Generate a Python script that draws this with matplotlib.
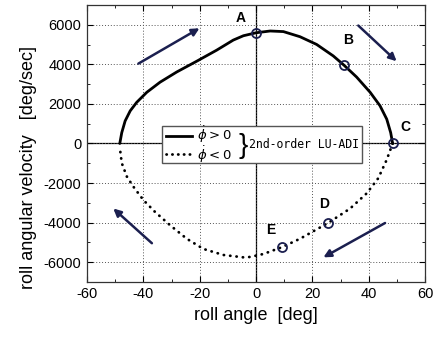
import matplotlib.pyplot as plt
from matplotlib.patches import Rectangle
from matplotlib.ticker import MultipleLocator

# phase trajectory, phi_dot > 0 branch (solid)
up_angle = [-48.4, -47.7, -46.5, -44.7, -42.4, -38.8, -34.1, -28.2, -21.1, -14.0, -8.1, -4.5,
            0.0, 5.0, 9.7, 15.6, 21.5, 27.4, 31.3, 35.7, 40.5, 44.0, 46.4, 47.8, 48.5]
up_rate = [0, 547, 1140, 1650, 2080, 2590, 3100, 3615, 4160, 4720, 5230, 5450,
           5600, 5690, 5660, 5400, 5010, 4430, 3950, 3360, 2590, 1910, 1230, 547, 0]

# phi_dot < 0 branch (dotted)
dn_angle = [48.5, 46.4, 43.4, 39.3, 33.4, 25.7, 15.6, 9.1, 2.6, -2.1, -4.5, -11.6,
            -18.7, -24.6, -30.5, -35.9, -40.0, -43.6, -45.9, -47.7, -48.4]
dn_rate = [0, -820, -1755, -2520, -3290, -4010, -4820, -5250, -5590, -5740, -5760, -5640,
           -5335, -4820, -4140, -3460, -2865, -2180, -1670, -990, -200]

# labelled states on the trajectory
pt_names = ["A", "B", "C", "D", "E"]
pt_angle = [0.0, 31.3, 48.5, 25.7, 9.1]
pt_rate = [5600, 3950, 0, -4010, -5250]
lbl_angle = [-5.4, 32.6, 53.1, 24.1, 5.2]
lbl_rate = [6340, 5230, 830, -3070, -4400]

# direction arrows (tail -> head)
arr_tail = [(-41.8, 4040), (36.3, 5965), (45.8, -4023), (-37.0, -5045)]
arr_head = [(-20.1, 5830), (49.9, 4160), (23.9, -5761), (-50.7, -3290)]

navy = "#1b1f4f"
plt.rcParams["font.family"] = "Liberation Sans"

fig = plt.figure(figsize=(4.4, 3.4), dpi=100)
ax = fig.add_axes([0.198, 0.171, 0.768, 0.814])

ax.axhline(0, color="black", lw=0.9, zorder=1)
ax.axvline(0, color="black", lw=0.9, zorder=1)

ax.plot(up_angle, up_rate, color="black", lw=2, solid_capstyle="round",
        solid_joinstyle="round", zorder=3)
ax.plot(dn_angle, dn_rate, color="black", lw=2, linestyle=(0, (0.1, 2.2)),
        dash_capstyle="round", zorder=3)

ax.plot(pt_angle, pt_rate, "o", ms=6.5, mfc="none", mec=navy, mew=1.3, zorder=4)
for name, x, y in zip(pt_names, lbl_angle, lbl_rate):
    ax.text(x, y, name, fontsize=10, fontweight="bold", ha="center", va="center")

for t, h in zip(arr_tail, arr_head):
    ax.annotate("", xy=h, xytext=t,
                arrowprops=dict(arrowstyle="-|>", color=navy, lw=1.8,
                                mutation_scale=11, shrinkA=0, shrinkB=0))

ax.set_xlim(-60, 60)
ax.set_ylim(-7000, 7000)
ax.xaxis.set_major_locator(MultipleLocator(20))
ax.xaxis.set_minor_locator(MultipleLocator(10))
ax.yaxis.set_major_locator(MultipleLocator(2000))
ax.yaxis.set_minor_locator(MultipleLocator(1000))
ax.tick_params(which="both", direction="in", top=True, right=True, labelsize=10.5)
ax.tick_params(which="major", length=4.5, pad=4)
ax.tick_params(which="minor", length=2.5)
ax.grid(True, which="major", linestyle=(0, (1, 2)), color="#555555", lw=0.7)
ax.set_xticklabels([f"{int(v)}" for v in ax.get_xticks()])
ax.set_yticklabels([f"{int(v)}" for v in ax.get_yticks()])
for s in ax.spines.values():
    s.set_linewidth(0.9)
    s.set_color("#333333")

ax.set_xlabel("roll angle  [deg]", fontsize=13, labelpad=4)
ax.set_ylabel("roll angular velocity   [deg/sec]", fontsize=13)
ax.yaxis.set_label_coords(-0.148, 0.415)

# legend box with a shared brace label
tr = ax.transAxes
ax.add_patch(Rectangle((0.222, 0.429), 0.592, 0.134, transform=tr,
                       facecolor="white", edgecolor="#555555", lw=1.0, zorder=5))
ax.plot([0.233, 0.31], [0.528, 0.528], transform=tr, color="black", lw=2, zorder=6)
ax.plot([0.233, 0.31], [0.463, 0.463], transform=tr, color="black", lw=2,
        linestyle=(0, (0.1, 2.0)), dash_capstyle="round", zorder=6)
ax.text(0.325, 0.530, r"$\dot{\phi} > 0$", transform=tr, fontsize=9.5,
        va="center", ha="left", zorder=6)
ax.text(0.325, 0.460, r"$\dot{\phi} < 0$", transform=tr, fontsize=9.5,
        va="center", ha="left", zorder=6)
ax.text(0.447, 0.490, "}", transform=tr, fontsize=20,
        va="center", ha="left", family="Liberation Sans", zorder=6)
ax.text(0.478, 0.497, "2nd-order LU-ADI", transform=tr, fontsize=8.3,
        family="DejaVu Sans Mono", va="center", ha="left", zorder=6)

fig.savefig("out.png", dpi=100)
